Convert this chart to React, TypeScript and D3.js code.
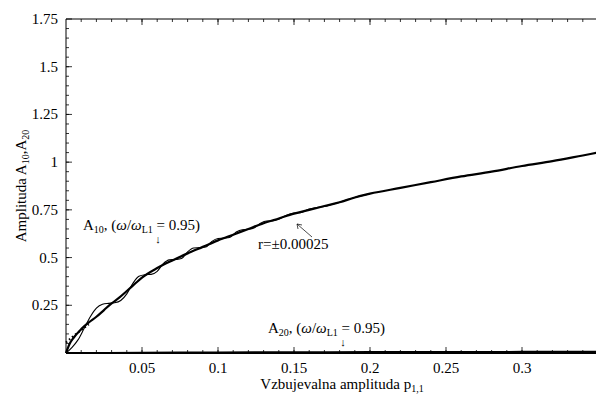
import React from 'react';
import * as d3 from 'd3';

const W = 596;
const H = 394;

// main A10 curve
const pMain = [0, 0.0025, 0.005, 0.01, 0.015, 0.02, 0.025, 0.03, 0.035, 0.04, 0.045, 0.05, 0.06, 0.07, 0.08, 0.09, 0.1, 0.11, 0.12, 0.13, 0.14, 0.15, 0.16, 0.17, 0.18, 0.19, 0.2, 0.22, 0.24, 0.26, 0.28, 0.3, 0.32, 0.34, 0.35];
const a10Main = [0, 0.05, 0.08, 0.125, 0.16, 0.19, 0.225, 0.26, 0.29, 0.325, 0.36, 0.395, 0.445, 0.485, 0.522, 0.556, 0.59, 0.62, 0.65, 0.68, 0.705, 0.73, 0.75, 0.77, 0.79, 0.815, 0.835, 0.865, 0.895, 0.925, 0.95, 0.98, 1.005, 1.035, 1.05];

// oscillating A10 curve, r = ±0.00025
const pOsc = [0, 0.004, 0.008, 0.012, 0.016, 0.02, 0.024, 0.028, 0.032, 0.036, 0.04, 0.044, 0.048, 0.052, 0.056, 0.06, 0.064, 0.068, 0.072, 0.076, 0.08, 0.084, 0.088, 0.092, 0.096, 0.1, 0.104, 0.108, 0.112, 0.116, 0.12, 0.124, 0.128, 0.132, 0.136, 0.14, 0.145, 0.15, 0.155, 0.16, 0.165, 0.17, 0.18, 0.19, 0.2];
const a10Osc = [0, 0.03, 0.07, 0.13, 0.19, 0.235, 0.255, 0.26, 0.263, 0.275, 0.31, 0.365, 0.402, 0.41, 0.412, 0.428, 0.468, 0.488, 0.49, 0.495, 0.53, 0.55, 0.552, 0.555, 0.585, 0.6, 0.602, 0.607, 0.634, 0.646, 0.648, 0.656, 0.68, 0.692, 0.692, 0.701, 0.722, 0.733, 0.737, 0.754, 0.762, 0.768, 0.79, 0.815, 0.835];

// dotted start
const pDot = [0, 0.005, 0.01, 0.015];
const a10Dot = [0.055, 0.09, 0.12, 0.15];

// A20 curve
const pA20 = [0, 0.05, 0.1, 0.15, 0.2, 0.25, 0.3, 0.35];
const a20 = [0, 0.001, 0.003, 0.004, 0.005, 0.005, 0.006, 0.006];

const xTicks = [0.05, 0.1, 0.15, 0.2, 0.25, 0.3];
const yTicks = [0.25, 0.5, 0.75, 1, 1.25, 1.5, 1.75];

const font = 'Liberation Serif, Times New Roman, DejaVu Serif, serif';

const x = d3.scaleLinear().domain([0, 0.35]).range([66, 598]);
const y = d3.scaleLinear().domain([0, 1.75]).range([353, 19]);

const line = d3.line<[number, number]>()
  .x(d => x(d[0]))
  .y(d => y(d[1]))
  .curve(d3.curveMonotoneX);

const zip = (a: number[], b: number[]) => a.map((v, i) => [v, b[i]] as [number, number]);

const Sub = ({ children }: { children: React.ReactNode }) => (
  <tspan fontSize={10} dy={3}>{children}</tspan>
);

export default function App() {
  const minorX = d3.range(0.01, 0.35, 0.01);
  const minorY = d3.range(0.05, 1.75, 0.05);
  const [x0, x1] = x.range();
  const [y0, y1] = y.range();

  return (
    <svg width={W} height={H} style={{ position: 'absolute', left: 0, top: 0, background: '#fff', fontFamily: font }}>
      {/* frame */}
      <line x1={x0} x2={x1} y1={y0} y2={y0} stroke="#000" strokeWidth={2} />
      <line x1={x0} x2={x1} y1={y1} y2={y1} stroke="#000" strokeWidth={1} />
      <line x1={x0} x2={x0} y1={y0} y2={y1} stroke="#000" strokeWidth={1} />

      {/* x ticks, bottom and top */}
      {minorX.map((t, i) => (
        <g key={'mx' + i}>
          <line x1={x(t)} x2={x(t)} y1={y0} y2={y0 - 3} stroke="#000" strokeWidth={0.8} />
          <line x1={x(t)} x2={x(t)} y1={y1} y2={y1 + 3} stroke="#000" strokeWidth={0.8} />
        </g>
      ))}
      {xTicks.map(t => (
        <g key={'x' + t}>
          <line x1={x(t)} x2={x(t)} y1={y0} y2={y0 - 6} stroke="#000" strokeWidth={0.8} />
          <line x1={x(t)} x2={x(t)} y1={y1} y2={y1 + 6} stroke="#000" strokeWidth={0.8} />
          <text x={x(t)} y={y0 + 20} textAnchor="middle" fontSize={15}>{String(t)}</text>
        </g>
      ))}

      {/* y ticks */}
      {minorY.map((t, i) => (
        <line key={'my' + i} x1={x0} x2={x0 + 3} y1={y(t)} y2={y(t)} stroke="#000" strokeWidth={0.8} />
      ))}
      {yTicks.map(t => (
        <g key={'y' + t}>
          <line x1={x0} x2={x0 + 6} y1={y(t)} y2={y(t)} stroke="#000" strokeWidth={0.8} />
          <text x={x0 - 8} y={y(t) + 5} textAnchor="end" fontSize={15}>{String(t)}</text>
        </g>
      ))}

      {/* axis titles */}
      <text x={342} y={389} textAnchor="middle" fontSize={15}>
        Vzbujevalna amplituda  p<Sub>1,1</Sub>
      </text>
      <text transform={`translate(26,${(y0 + y1) / 2}) rotate(-90)`} textAnchor="middle" fontSize={15}>
        Amplituda  A<Sub>10</Sub><tspan dy={-3}>,A</tspan><Sub>20</Sub>
      </text>

      {/* curves */}
      <path d={line(zip(pA20, a20)) || ''} fill="none" stroke="#000" strokeWidth={2} />
      <path d={line(zip(pDot, a10Dot)) || ''} fill="none" stroke="#000" strokeWidth={2} strokeDasharray="1.5,2.5" />
      <path d={line(zip(pOsc, a10Osc)) || ''} fill="none" stroke="#000" strokeWidth={1.1} />
      <path d={line(zip(pMain, a10Main)) || ''} fill="none" stroke="#000" strokeWidth={2.2} />

      {/* annotations */}
      <text x={83} y={230} fontSize={15}>
        A<Sub>10</Sub><tspan dy={-3}>,  (</tspan><tspan fontStyle="italic">ω</tspan>/<tspan fontStyle="italic">ω</tspan><Sub>L1</Sub><tspan dy={-3}> = 0.95)</tspan>
      </text>
      <text x={158} y={243} textAnchor="middle" fontSize={11}>↓</text>

      <text x={268} y={333} fontSize={15}>
        A<Sub>20</Sub><tspan dy={-3}>,  (</tspan><tspan fontStyle="italic">ω</tspan>/<tspan fontStyle="italic">ω</tspan><Sub>L1</Sub><tspan dy={-3}> = 0.95)</tspan>
      </text>
      <text x={343} y={346} textAnchor="middle" fontSize={11}>↓</text>

      <text x={258} y={249} fontSize={15}>r=±0.00025</text>
      <line x1={312} y1={237} x2={297} y2={224} stroke="#000" strokeWidth={0.7} />
      <path d="M297,224 L298,229 M297,224 L302,225" fill="none" stroke="#000" strokeWidth={0.7} />
    </svg>
  );
}
